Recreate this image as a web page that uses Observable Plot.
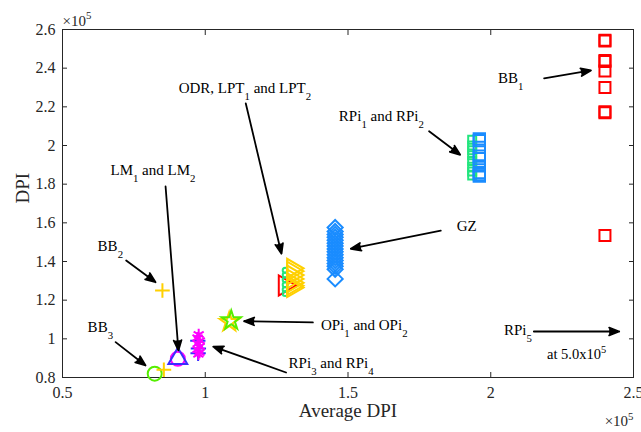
<!DOCTYPE html>
<html><head><meta charset="utf-8">
<script src="https://cdn.jsdelivr.net/npm/d3@7"></script>
<script src="https://cdn.jsdelivr.net/npm/@observablehq/plot@0.6"></script>
<style>
body{margin:0;background:#fff}
svg{font-family:"Liberation Serif","Times New Roman",serif}
</style>
</head><body><div id="chart"></div>
<script>
// axis ticks (units of 1e5)
const xTicks = [0.5, 1, 1.5, 2, 2.5];
const yTicks = [0.8, 1, 1.2, 1.4, 1.6, 1.8, 2, 2.2, 2.4, 2.6];

// series values (units of 1e5): x = average DPI, y = DPI
const bb1X = [2.4, 2.4, 2.4, 2.4, 2.4, 2.4, 2.4, 2.4, 2.4];
const bb1Y = [2.545, 2.54, 2.44, 2.435, 2.385, 2.30, 2.175, 2.17, 1.535];

const rpi12GreenX = [1.935, 1.935, 1.935, 1.935, 1.935, 1.935, 1.935, 1.935];
const rpi12GreenY = [2.03, 2.0, 1.975, 1.95, 1.92, 1.89, 1.865, 1.845];
const rpi12BlueX = [1.96, 1.96, 1.96, 1.96, 1.96, 1.96, 1.96, 1.96, 1.96];
const rpi12BlueY = [2.034, 2.025, 1.99, 1.945, 1.932, 1.895, 1.86, 1.85, 1.842];

const gzX = [1.455, 1.455, 1.455, 1.455, 1.455, 1.455, 1.455, 1.455, 1.455, 1.455, 1.455, 1.455, 1.455, 1.455, 1.455, 1.455];
const gzY = [1.576, 1.555, 1.54, 1.525, 1.51, 1.495, 1.48, 1.465, 1.45, 1.435, 1.42, 1.405, 1.39, 1.375, 1.36, 1.31];

const odrX = [1.278];
const odrY = [1.276];
const lpt1X = [1.28, 1.28, 1.28, 1.28, 1.28, 1.28];
const lpt1Y = [1.355, 1.33, 1.305, 1.28, 1.255, 1.235];
const lpt2X = [1.306, 1.306, 1.306, 1.306, 1.306, 1.306, 1.306];
const lpt2Y = [1.365, 1.35, 1.33, 1.31, 1.29, 1.275, 1.265];

const bb2X = [0.85];
const bb2Y = [1.25];
const bb3CircleX = [0.823];
const bb3CircleY = [0.82];
const bb3PlusX = [0.855];
const bb3PlusY = [0.84];

const lm1X = [0.904];
const lm1Y = [0.897];
const lm2X = [0.904];
const lm2Y = [0.898];

const rpi34BlueX = [0.974, 0.976, 0.975];
const rpi34BlueY = [0.99, 0.95, 0.925];
const rpi34MagX = [0.977, 0.973, 0.981, 0.974, 0.98, 0.973, 0.98, 0.976];
const rpi34MagY = [1.022, 1.005, 0.99, 0.975, 0.96, 0.945, 0.93, 0.92];

const opi1X = [1.084];
const opi1Y = [1.087];
const opi2X = [1.091];
const opi2Y = [1.095];

// annotations (units of 1e5)
const labelText = ["ODR, LPT_1 and LPT_2", "LM_1 and LM_2", "BB_2", "BB_3", "OPi_1 and OPi_2", "RPi_3 and RPi_4", "GZ", "RPi_1 and RPi_2", "BB_1", "RPi_5"];
const labelX = [0.907, 0.668, 0.623, 0.588, 1.405, 1.292, 1.881, 1.468, 2.025, 2.046];
const labelY = [2.295, 1.871, 1.478, 1.059, 1.069, 0.872, 1.581, 2.15, 2.347, 1.043];
const noteText = ["at 5.0x10^5"];
const noteX = [2.197];
const noteY = [0.919];

const arrowX1 = [1.142, 0.861, 0.723, 0.686, 1.377, 1.283, 1.825, 1.784, 2.187, 2.151];
const arrowY1 = [2.2175, 1.788, 1.405, 0.983, 1.085, 0.826, 1.56, 2.074, 2.347, 1.038];
const arrowX2 = [1.267, 0.906, 0.826, 0.791, 1.136, 1.028, 1.51, 1.893, 2.351, 2.45];
const arrowY2 = [1.44, 0.94, 1.293, 0.862, 1.091, 0.96, 1.466, 1.952, 2.388, 1.038];

const pts = (xs, ys) => xs.map((x, i) => ({x, y: ys[i]}));
const arrows = arrowX1.map((x1, i) => ({x1, y1: arrowY1[i], x2: arrowX2[i], y2: arrowY2[i]}));
const labels = labelText.map((t, i) => ({t, x: labelX[i], y: labelY[i]}));
const notes = noteText.map((t, i) => ({t, x: noteX[i], y: noteY[i]}));
const fmt = d => String(+d.toFixed(1));

const AX = "#262626";
const RED = "#ff0000", YEL = "#ffd000", GRN = "#22e57e", LIME = "#55ee00", BLU = "#1a8cff", MAG = "#ff00ff", VIO = "#3a2cff";

const chart = Plot.plot({
  width: 641, height: 432,
  marginLeft: 62, marginRight: 8, marginTop: 29, marginBottom: 55,
  x: {domain: [0.5, 2.5], label: null},
  y: {domain: [0.8, 2.6], label: null},
  style: {fontFamily: "Liberation Serif, Times New Roman, serif", fontSize: "16px", color: AX, background: "white"},
  marks: [
    Plot.frame({stroke: AX, strokeWidth: 1}),
    Plot.axisX(xTicks, {anchor: "bottom", tickSize: -5, tickPadding: 14, tickFormat: fmt, label: null, fontSize: 16, stroke: AX}),
    Plot.axisX(xTicks, {anchor: "top", tickSize: -5, tickFormat: () => "", label: null, stroke: AX}),
    Plot.axisY(yTicks, {anchor: "left", tickSize: -5, tickPadding: 12, tickFormat: fmt, label: null, fontSize: 16, stroke: AX}),
    Plot.axisY(yTicks, {anchor: "right", tickSize: -5, tickFormat: () => "", label: null, stroke: AX}),

    // BB1
    Plot.dot(pts(bb1X, bb1Y), {x: "x", y: "y", symbol: "square", r: 6.2, stroke: RED, strokeWidth: 2, fill: "none"}),
    // RPi1, RPi2
    Plot.dot(pts(rpi12GreenX, rpi12GreenY), {x: "x", y: "y", symbol: "square", r: 4.5, stroke: GRN, strokeWidth: 2, fill: "none"}),
    Plot.dot(pts(rpi12BlueX, rpi12BlueY), {x: "x", y: "y", symbol: "square", r: 6.4, stroke: BLU, strokeWidth: 2, fill: "none"}),
    // GZ
    Plot.dot(pts(gzX, gzY), {x: "x", y: "y", symbol: "diamond2", r: 6.8, stroke: BLU, strokeWidth: 2, fill: "none"}),
    // ODR, LPT1, LPT2
    Plot.dot(pts(odrX, odrY), {x: "x", y: "y", symbol: "triangle", r: 7.5, rotate: 90, stroke: RED, strokeWidth: 2, fill: "none"}),
    Plot.dot(pts(lpt1X, lpt1Y), {x: "x", y: "y", symbol: "circle", r: 2.5, stroke: GRN, strokeWidth: 2, fill: "none"}),
    Plot.dot(pts(lpt2X, lpt2Y), {x: "x", y: "y", symbol: "triangle", r: 7, rotate: 90, stroke: YEL, strokeWidth: 2, fill: "none"}),
    // BB2, BB3
    Plot.dot(pts(bb2X, bb2Y), {x: "x", y: "y", symbol: "plus", r: 4.8, stroke: YEL, strokeWidth: 2}),
    Plot.dot(pts(bb3CircleX, bb3CircleY), {x: "x", y: "y", symbol: "circle", r: 7, stroke: LIME, strokeWidth: 2, fill: "none"}),
    Plot.dot(pts(bb3PlusX, bb3PlusY), {x: "x", y: "y", symbol: "plus", r: 4.8, stroke: YEL, strokeWidth: 2}),
    // LM1, LM2
    Plot.dot(pts(lm1X, lm1Y), {x: "x", y: "y", symbol: "circle", r: 7, stroke: MAG, strokeWidth: 2, fill: "none"}),
    Plot.dot(pts(lm2X, lm2Y), {x: "x", y: "y", symbol: "triangle", r: 7, stroke: VIO, strokeWidth: 2, fill: "none"}),
    // RPi3, RPi4
    Plot.dot(pts(rpi34BlueX, rpi34BlueY), {x: "x", y: "y", symbol: "plus", r: 5, stroke: VIO, strokeWidth: 2}),
    Plot.dot(pts(rpi34MagX, rpi34MagY), {x: "x", y: "y", symbol: "asterisk", r: 5.5, stroke: MAG, strokeWidth: 2}),
    // OPi1, OPi2
    Plot.dot(pts(opi1X, opi1Y), {x: "x", y: "y", symbol: "star", r: 6, stroke: YEL, strokeWidth: 2, fill: "none"}),
    Plot.dot(pts(opi2X, opi2Y), {x: "x", y: "y", symbol: "star", r: 6, stroke: LIME, strokeWidth: 2, fill: "none"}),

    // arrows and labels
    Plot.arrow(arrows, {x1: "x1", y1: "y1", x2: "x2", y2: "y2", stroke: "black", fill: "black", strokeWidth: 1.8, headLength: 9, headAngle: 42, bend: 0}),
    Plot.text(labels, {x: "x", y: "y", text: "t", textAnchor: "start", lineAnchor: "middle", fontSize: 15, fill: "black"}),
    Plot.text(notes, {x: "x", y: "y", text: "t", textAnchor: "start", lineAnchor: "middle", fontSize: 14.5, fill: "black"}),

    // exponent markers and axis titles
    Plot.text(["\u00d710^5"], {frameAnchor: "top-left", textAnchor: "start", lineAnchor: "bottom", dy: -4, fontSize: 15, fill: AX}),
    Plot.text(["\u00d710^5"], {frameAnchor: "bottom-right", textAnchor: "end", lineAnchor: "middle", dy: 44, dx: 0, fontSize: 15, fill: AX}),
    Plot.text(["DPI"], {frameAnchor: "left", rotate: -90, lineAnchor: "bottom", dx: -34, fontSize: 19, fill: AX}),
    Plot.text(["Average DPI"], {frameAnchor: "bottom", lineAnchor: "bottom", dy: 39, fontSize: 19, fill: AX})
  ]
});

// render "_x" as subscript and "^x" as superscript
function applyScripts(root) {
  root.querySelectorAll("text").forEach(t => {
    if (t.querySelector("tspan")) return;
    const s = t.textContent;
    if (!/[_^]/.test(s)) return;
    const holder = t.closest("[font-size]");
    const fs = holder ? parseFloat(holder.getAttribute("font-size")) : 16;
    const parts = s.split(/([_^][0-9A-Za-z])/).filter(p => p !== "");
    t.textContent = "";
    let shift = 0;
    for (const p of parts) {
      const ts = document.createElementNS("http://www.w3.org/2000/svg", "tspan");
      if (/^[_^]./.test(p) && p.length === 2) {
        const off = p[0] === "_" ? fs * 0.44 : -fs * 0.42;
        ts.setAttribute("font-size", (fs * 0.72).toFixed(1));
        ts.setAttribute("dy", (off - shift).toFixed(2));
        shift = off;
        ts.textContent = p.slice(1);
      } else {
        ts.setAttribute("dy", (-shift).toFixed(2));
        shift = 0;
        ts.textContent = p;
      }
      t.appendChild(ts);
    }
  });
}
applyScripts(chart);
document.getElementById("chart").appendChild(chart);
</script>
</body></html>
